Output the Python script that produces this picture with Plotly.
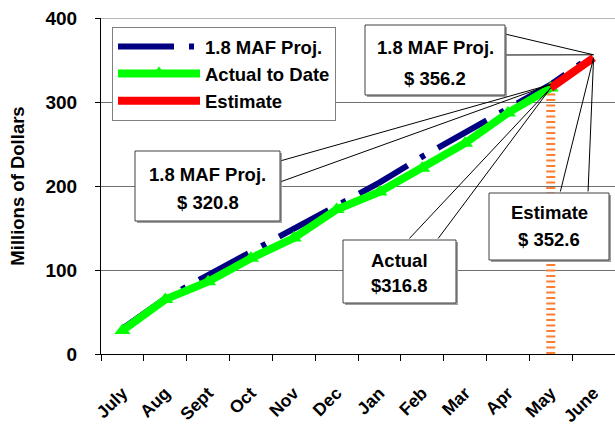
import plotly.graph_objects as go

months = ["July", "Aug", "Sept", "Oct", "Nov", "Dec", "Jan", "Feb", "Mar", "Apr", "May", "June"]
proj_values = [30, 66, 94, 121, 149, 176, 204, 235, 263, 292, 320.8, 356.2]
actual_months = months[:11]
actual_values = [28, 65, 86, 114, 138, 172, 193, 221, 251, 287, 316.8]
estimate_months = ["May", "June"]
estimate_values = [316.8, 352.6]
y_ticks = [0, 100, 200, 300, 400]

FONT = "Liberation Sans, Arial, sans-serif"
W, H = 615, 430
L, R, T, B = 101, 0, 18, 76
PW, PH = W - L - R, H - T - B


def px_x(i):
    return L + (i + 0.5) * PW / len(months)


def px_y(v):
    return T + PH * (1 - v / 400)


def fx(px):
    return (px - L) / PW


def fy(py):
    return (H - B - py) / PH


fig = go.Figure()

# orange dashed marker line at the last actual month
fig.add_trace(go.Scatter(
    x=[actual_months[-1], actual_months[-1]], y=[0, actual_values[-1]],
    mode="lines", line=dict(color="#FF7F30", width=9, dash="2px,3.5px"),
    showlegend=False, hoverinfo="skip"))

fig.add_trace(go.Scatter(
    x=months, y=proj_values, mode="lines", name="1.8 MAF Proj.",
    line=dict(color="#000080", width=6, dash="56px,15px,5px,15px"),
    legendgroup="a"))
fig.add_trace(go.Scatter(
    x=actual_months, y=actual_values, mode="lines+markers", name="Actual to Date",
    line=dict(color="#00FF00", width=8),
    marker=dict(symbol="triangle-up", size=14, color="#00FF00"),
    legendgroup="b"))
fig.add_trace(go.Scatter(
    x=estimate_months, y=estimate_values, mode="lines", name="Estimate",
    line=dict(color="#FF0000", width=8), legendgroup="c"))

annotations = []
shapes = []
BOXFONT = dict(family=FONT, size=18.5, color="black", weight="bold")


def callout(lines, line_ys, left, top, right, bottom, tip_i, tip_v, p1, p2):
    # shadow
    shapes.append(dict(type="rect", xref="paper", yref="paper",
                       x0=fx(left + 2), x1=fx(right + 2),
                       y0=fy(bottom + 2), y1=fy(top + 2),
                       fillcolor="#a0a0a0", line=dict(width=0), layer="above"))
    shapes.append(dict(type="rect", xref="paper", yref="paper",
                       x0=fx(left), x1=fx(right), y0=fy(bottom), y1=fy(top),
                       fillcolor="white", line=dict(width=1, color="#404040"),
                       layer="above"))
    for txt, ly in zip(lines, line_ys):
        annotations.append(dict(
            xref="paper", yref="paper", x=fx((left + right) / 2), y=fy(ly),
            xanchor="center", yanchor="middle", text=txt, showarrow=False,
            font=BOXFONT))
    tx, ty = px_x(tip_i), px_y(tip_v)
    for (sx, sy) in (p1, p2):
        annotations.append(dict(
            x=months[tip_i], y=tip_v, xref="x", yref="y", text="",
            showarrow=True, arrowhead=0, arrowwidth=1, arrowcolor="black",
            ax=sx - tx, ay=sy - ty, standoff=0, startstandoff=0))


callout(["1.8 MAF Proj.", "$ 356.2"], [47, 78], 365, 25, 505, 95, 11, proj_values[11],
        (505, 34), (505, 55))
callout(["1.8 MAF Proj.", "$ 320.8"], [174, 202], 135, 151, 280, 221, 10, proj_values[10],
        (280, 161), (280, 182))
callout(["Actual", "$316.8"], [260, 285], 343, 240, 456, 303, 10, actual_values[10],
        (408, 240), (437, 240))
callout(["Estimate", "$ 352.6"], [213, 239], 489, 193, 609, 260, 11, estimate_values[1],
        (560, 193), (588, 193))

# top border line at the max of the y range
shapes.append(dict(type="line", xref="paper", yref="y", x0=0, x1=1,
                   y0=y_ticks[-1], y1=y_ticks[-1], line=dict(color="#707070", width=1),
                   layer="below"))

fig.update_layout(
    width=W, height=H, margin=dict(l=L, r=R, t=T, b=B, pad=0),
    paper_bgcolor="white", plot_bgcolor="white",
    font=dict(family=FONT, size=18.5, color="black", weight="bold"),
    showlegend=True,
    legend=dict(x=fx(112), y=fy(27), xanchor="left", yanchor="top",
                bgcolor="white", bordercolor="#808080", borderwidth=1,
                font=dict(family=FONT, size=18.5, color="black", weight="bold"),
                itemwidth=82, tracegroupgap=5, traceorder="normal"),
    annotations=annotations, shapes=shapes,
    xaxis=dict(type="category", categoryorder="array", categoryarray=months,
               range=[-0.5, 11.5], tickson="boundaries", ticks="outside",
               ticklen=6, tickcolor="black", tickangle=-45, showline=True,
               linecolor="black", linewidth=1, showgrid=False, automargin=False,
               ticklabelstandoff=21,
               tickfont=dict(family=FONT, size=17.5, color="black", weight="bold")),
    yaxis=dict(range=[0, 400], tickvals=y_ticks, ticks="outside", ticklen=5,
               tickcolor="black", showline=True, linecolor="black", linewidth=1,
               showgrid=True, gridcolor="#707070", gridwidth=1, zeroline=False,
               automargin=False, ticklabelstandoff=14,
               title=dict(text="Millions of Dollars", standoff=16,
                          font=dict(family=FONT, size=18.5, color="black", weight="bold")),
               tickfont=dict(family=FONT, size=19, color="black", weight="bold")),
)

fig.write_html("out.html", config={"displayModeBar": False},
               post_script="document.body.style.margin='0';")
